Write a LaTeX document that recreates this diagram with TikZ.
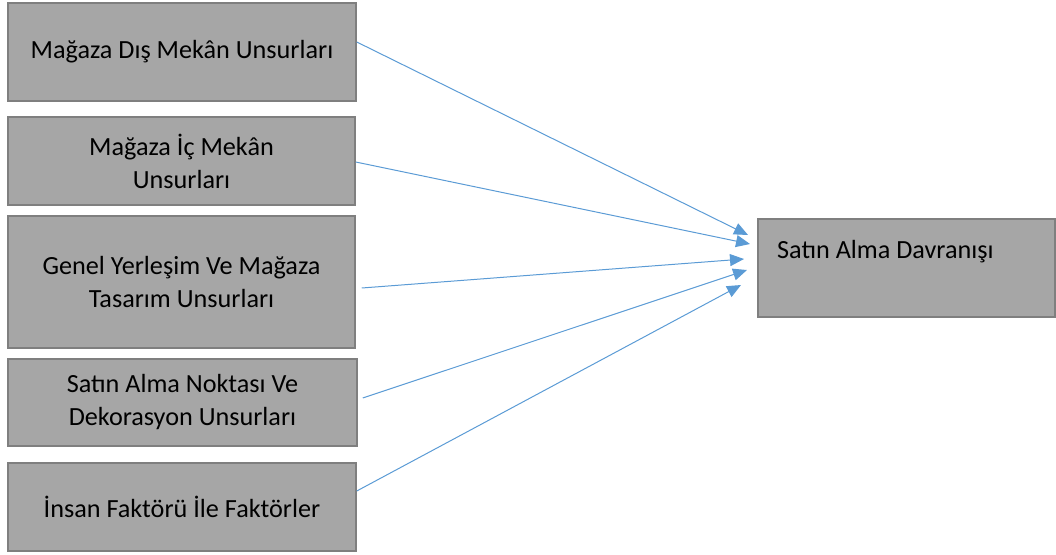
\documentclass[tikz,border=0pt]{standalone}
\usepackage{fontspec}
\setmainfont{Carlito}
\usetikzlibrary{arrows.meta}
\definecolor{boxfill}{HTML}{A6A6A6}
\definecolor{boxline}{HTML}{7F7F7F}
\definecolor{arrowblue}{HTML}{5B9BD5}
\tikzset{
  factor/.style={draw=boxline, line width=1.5pt, fill=boxfill, inner sep=0pt,
    align=center, font=\fontsize{26.2}{33}\selectfont, text=black},
  link/.style={draw=arrowblue, line width=1pt,
    -{Triangle[length=14pt,width=12pt]}, arrowblue},
}
\begin{document}
\begin{tikzpicture}[x=1pt,y=-1pt]
\useasboundingbox (0,0) rectangle (1056,554);
\node[factor, minimum width=348pt, minimum height=98pt] (b1) at (182,52) {Mağaza Dış Mekân Unsurları};
\node[factor, minimum width=347pt, minimum height=88pt] (b2) at (181.5,161) {Mağaza İç Mekân\\Unsurları};
\node[factor, minimum width=347pt, minimum height=132pt] (b3) at (181.5,282) {Genel Yerleşim Ve Mağaza\\Tasarım Unsurları};
\node[factor, minimum width=349pt, minimum height=87pt] (b4) at (182.5,402.5) {Satın Alma Noktası Ve\\Dekorasyon Unsurları};
\node[factor, minimum width=348pt, minimum height=88pt] (b5) at (182,507) {İnsan Faktörü İle Faktörler};
\node[factor, minimum width=297pt, minimum height=98pt] (t) at (906.5,268) {};
\node[anchor=west, inner sep=0pt, font=\fontsize{26.2}{33}\selectfont] (tl) at (777,252) {Satın Alma Davranışı};
\coordinate (t1) at (748,235);
\coordinate (t2) at (750,244);
\coordinate (t3) at (744,259);
\coordinate (t4) at (747,270);
\coordinate (t5) at (741,285);
\draw[link] ([yshift=10pt]b1.east) -- (t1);
\draw[link] ([yshift=-1pt]b2.east) -- (t2);
\draw[link] ([xshift=6pt,yshift=-6pt]b3.east) -- (t3);
\draw[link] ([xshift=5pt,yshift=4.5pt]b4.east) -- (t4);
\draw[link] ([yshift=16pt]b5.east) -- (t5);
\end{tikzpicture}
\end{document}
